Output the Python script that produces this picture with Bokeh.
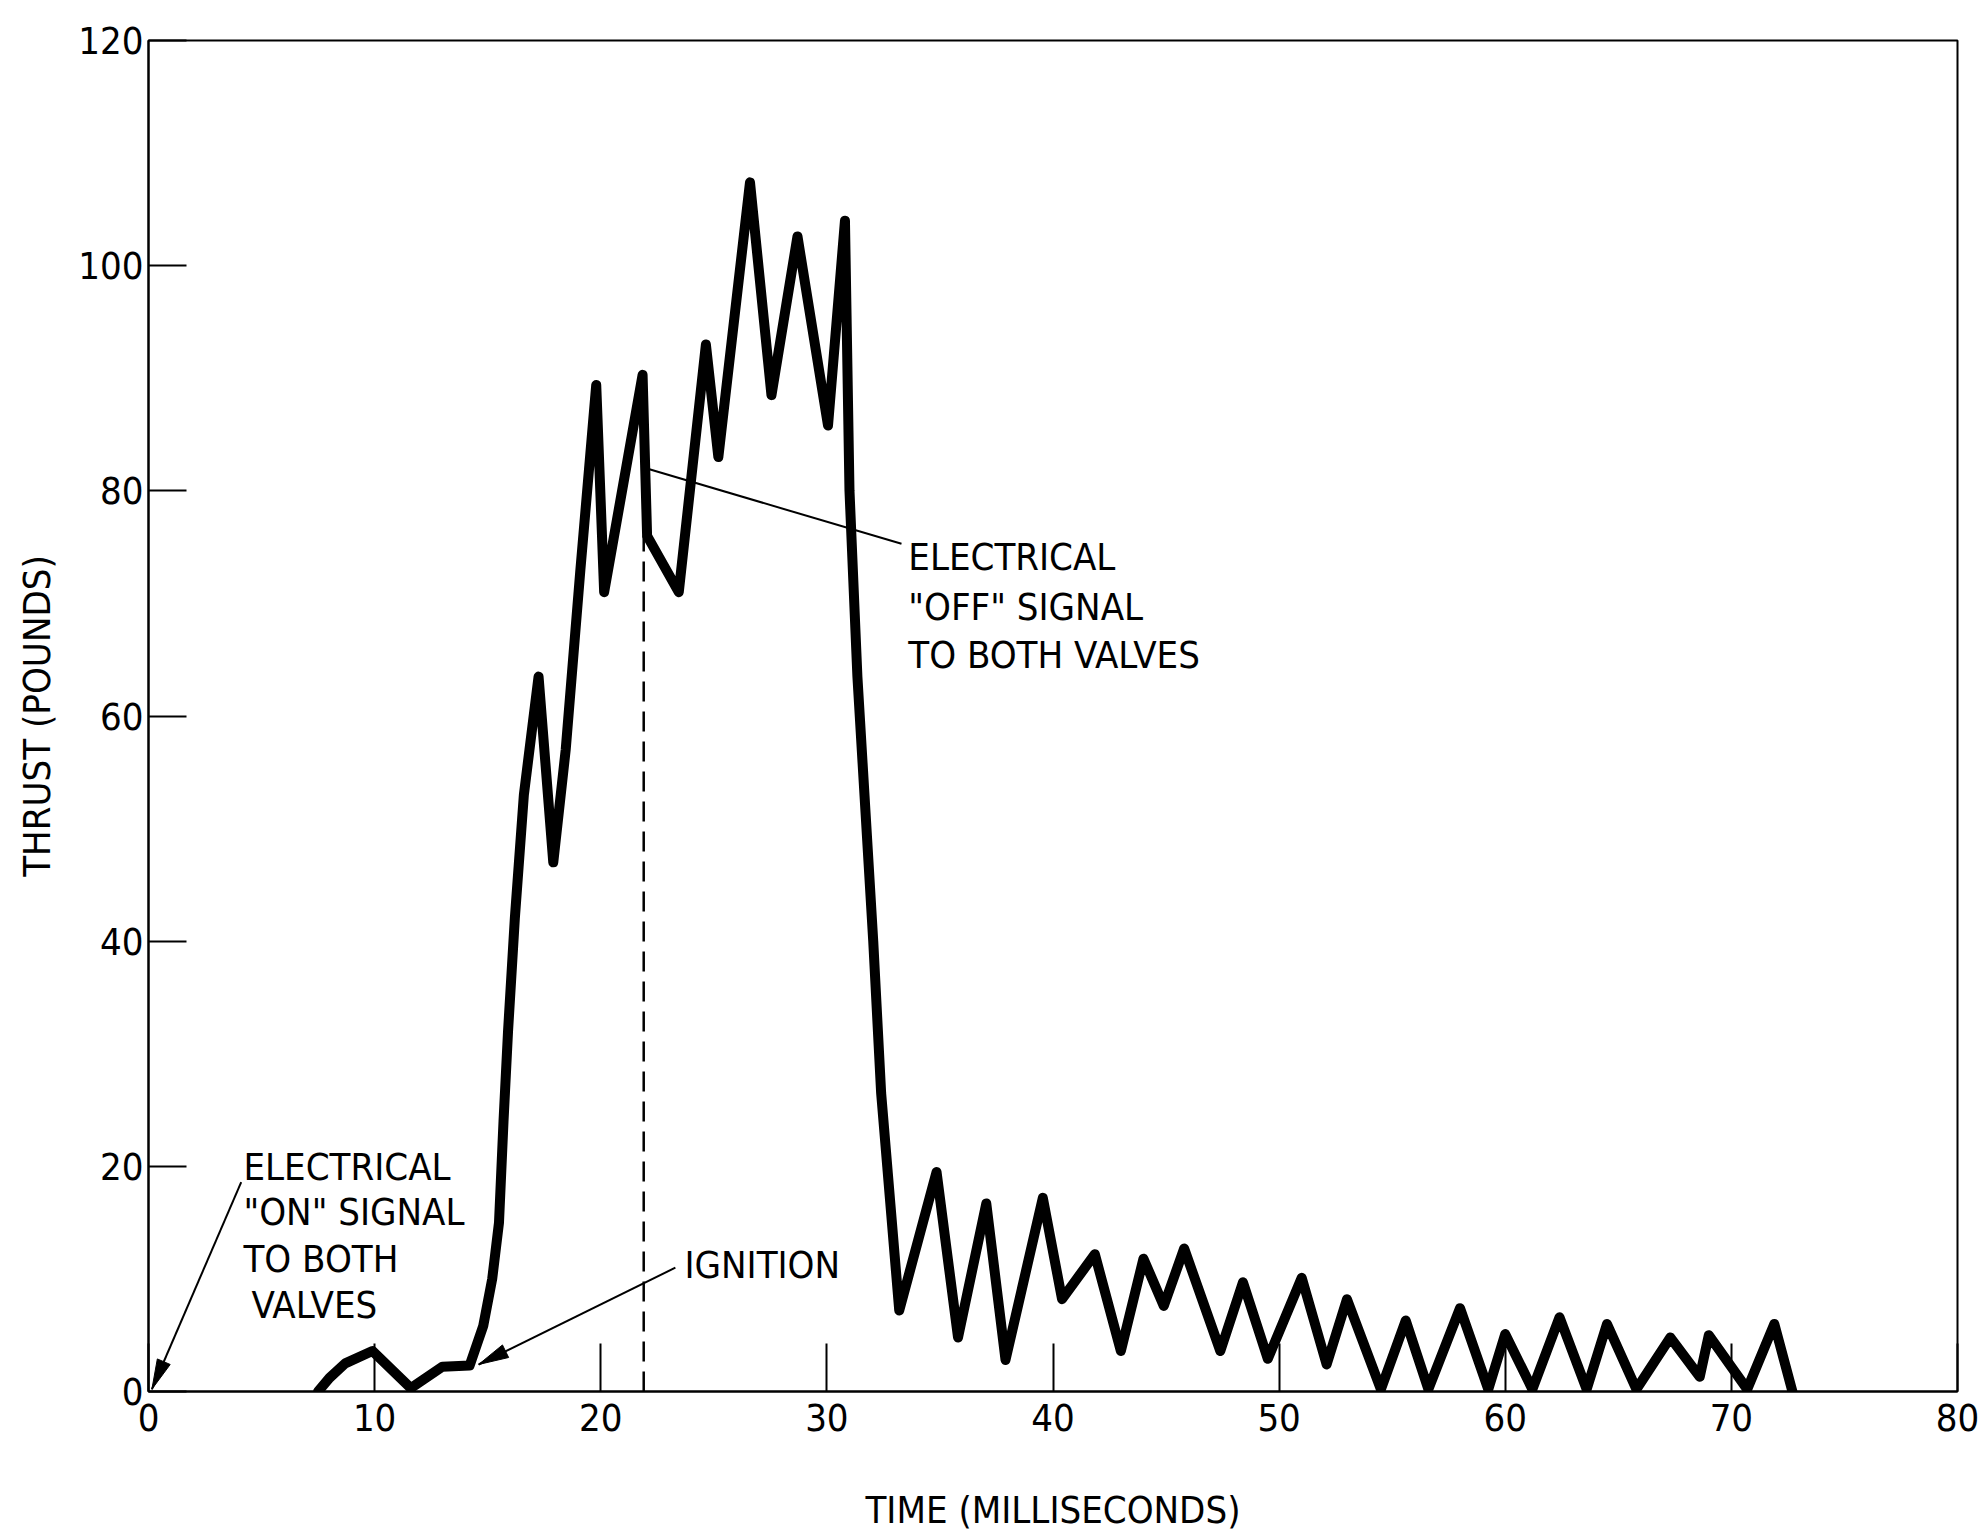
import math
from bokeh.plotting import figure
from bokeh.models import Range1d, FixedTicker
from bokeh.core.properties import value
from bokeh.embed import file_html
from bokeh.resources import INLINE

FONT = "DejaVu Sans Condensed, Liberation Sans, sans-serif"
FS = "38px"

# ---- data ----
time_ms = [7.5, 8.0, 8.7, 9.9, 11.6, 13.0, 14.2, 14.8, 15.2, 15.5, 15.7, 15.9, 16.2, 16.6,
           17.25, 17.9, 18.45, 19.1, 19.8, 20.15, 21.85, 22.05, 23.45, 24.65, 25.2, 26.6,
           27.55, 28.7, 30.05, 30.8, 31.0, 31.35, 32.05, 32.4, 33.2, 34.85, 35.8, 37.05,
           37.9, 39.55, 40.4, 41.85, 43.0, 44.0, 44.9, 45.8, 47.4, 48.4, 49.5, 51.0, 52.1,
           53.0, 54.5, 55.6, 56.6, 58.0, 59.25, 60.0, 61.2, 62.4, 63.6, 64.5, 65.8, 67.3,
           68.6, 69.0, 70.7, 71.9, 72.7]
thrust_lb = [0.0, 1.2, 2.5, 3.6, 0.3, 2.2, 2.3, 5.8, 10.0, 15.0, 24.0, 32.0, 42.0, 53.0,
             63.5, 47.0, 57.0, 73.0, 89.4, 71.0, 90.3, 76.0, 71.0, 93.0, 83.0, 107.4,
             88.5, 102.6, 85.8, 104.0, 80.0, 63.5, 40.0, 26.5, 7.2, 19.5, 4.8, 16.7,
             2.8, 17.2, 8.2, 12.2, 3.6, 11.8, 7.6, 12.7, 3.6, 9.7, 2.9, 10.1, 2.4,
             8.2, 0.2, 6.3, 0.2, 7.4, 0.2, 5.1, 0.2, 6.6, 0.2, 6.0, 0.2, 4.8,
             1.3, 5.0, 0.2, 6.0, 0.0]

x_ticks = [0, 10, 20, 30, 40, 50, 60, 70, 80]
y_ticks = [0, 20, 40, 60, 80, 100, 120]
x_title = "TIME (MILLISECONDS)"
y_title = "THRUST (POUNDS)"

on_lines = ["ELECTRICAL", '"ON" SIGNAL', "TO BOTH", "VALVES"]
on_x = [4.2, 4.2, 4.2, 4.55]
on_y = [19.9, 15.9, 11.8, 7.7]
on_arrow_start = (4.1, 18.6)
on_arrow_end = (0.15, 0.2)

ign_lines = ["IGNITION"]
ign_x = [23.7]
ign_y = [11.2]
ign_arrow_start = (23.3, 11.0)
ign_arrow_end = (14.6, 2.4)

off_lines = ["ELECTRICAL", '"OFF" SIGNAL', "TO BOTH VALVES"]
off_x = [33.6, 33.6, 33.6]
off_y = [74.1, 69.7, 65.4]
off_leader_start = (22.0, 82.0)
off_leader_end = (33.3, 75.3)
off_time = 21.9
off_level = 76.0

X_MAX, Y_MAX = 80, 120

# ---- layout ----
W, H = 1980, 1536
BL, BR, BT, BB = 148, 23, 40, 145
FW, FH = W - BL - BR, H - BT - BB

p = figure(width=W, height=H, output_backend="svg", toolbar_location=None,
           x_range=Range1d(0, X_MAX), y_range=Range1d(0, Y_MAX),
           min_border_left=BL, min_border_right=BR, min_border_top=BT, min_border_bottom=BB)
p.background_fill_color = "white"
p.border_fill_color = "white"
p.outline_line_color = "black"
p.outline_line_width = 2
p.xgrid.visible = False
p.ygrid.visible = False

for ax, ticks, tick_len in ((p.xaxis[0], x_ticks, 48), (p.yaxis[0], y_ticks, 38)):
    ax.ticker = FixedTicker(ticks=ticks)
    ax.major_tick_in = tick_len
    ax.major_tick_out = 0
    ax.minor_tick_line_color = None
    ax.axis_line_color = "black"
    ax.axis_line_width = 2
    ax.major_tick_line_color = "black"
    ax.major_tick_line_width = 2
    ax.major_label_text_font = FONT
    ax.major_label_text_font_size = FS
    ax.major_label_text_color = "black"
    ax.axis_label_text_font = FONT
    ax.axis_label_text_font_size = FS
    ax.axis_label_text_font_style = "normal"
    ax.axis_label_text_color = "black"

p.xaxis.axis_label = x_title
p.yaxis.axis_label = y_title
p.xaxis.major_label_standoff = 12
p.xaxis.axis_label_standoff = 54
p.yaxis.major_label_standoff = 5
p.yaxis.axis_label_standoff = 16

# ---- curve ----
p.line(time_ms, thrust_lb, line_width=10, line_color="black", line_join="round", line_cap="round")

# ---- dashed "off" marker ----
p.line([off_time, off_time], [0, off_level], line_color="black", line_width=2.5, line_dash="20 10")

# ---- leaders and arrows ----
sx, sy = FW / X_MAX, FH / Y_MAX


def arrow(start, end, head_len=30, head_half=7):
    p.line([start[0], end[0]], [start[1], end[1]], line_color="black", line_width=2)
    dx = (end[0] - start[0]) * sx
    dy = (end[1] - start[1]) * sy
    n = math.hypot(dx, dy)
    ux, uy = dx / n, dy / n
    bx, by = -ux * head_len, -uy * head_len
    px_, py_ = -uy * head_half, ux * head_half
    xs = [end[0], end[0] + (bx + px_) / sx, end[0] + (bx - px_) / sx]
    ys = [end[1], end[1] + (by + py_) / sy, end[1] + (by - py_) / sy]
    p.patch(xs, ys, fill_color="black", line_color="black", line_width=1)


arrow(on_arrow_start, on_arrow_end)
arrow(ign_arrow_start, ign_arrow_end)
p.line([off_leader_start[0], off_leader_end[0]], [off_leader_start[1], off_leader_end[1]],
       line_color="black", line_width=2)

# ---- annotation texts ----
for xs, ys, lines in ((on_x, on_y, on_lines), (ign_x, ign_y, ign_lines), (off_x, off_y, off_lines)):
    p.text(x=xs, y=ys, text=lines, text_font=value(FONT), text_font_size=FS,
           text_color="black", text_align="left", text_baseline="middle")

open("out.html", "w").write(file_html(p, INLINE))
